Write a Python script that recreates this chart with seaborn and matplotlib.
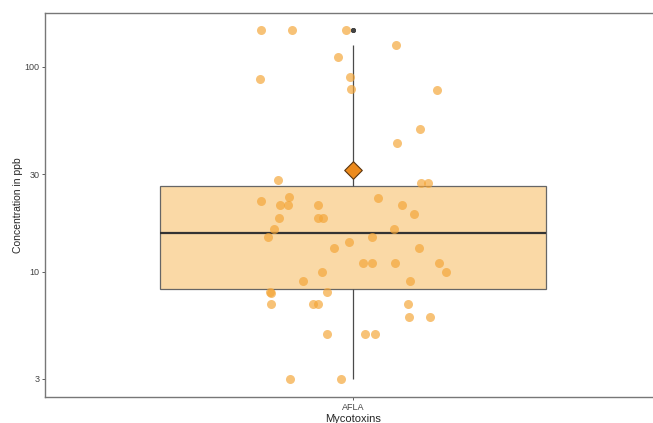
"""
Mycotoxin concentration boxplot (AFLA) with jittered samples.
"""

import numpy as np
import pandas as pd
import matplotlib.pyplot as plt
import seaborn as sns

# Data
mycotoxin = "AFLA"
concentration_ppb = [
    152, 152, 152, 128, 112, 89, 87, 78, 77, 50, 42.6,
    28.1, 27.2, 27.2, 23.2, 23, 22.2, 21.2, 21.2, 21.2, 21.2,
    19.2, 18.3, 18.3, 18.3, 16.2, 16.2, 14.8, 14.8, 14, 13.1, 13.1,
    11.1, 11.1, 11.1, 11.1, 10, 10, 9, 9, 8, 8, 7.9,
    7, 7, 7, 7, 6, 6, 5, 5, 5, 3, 3,
]
y_ticks = [3, 10, 30, 100]

df = pd.DataFrame({
    "Mycotoxins": [mycotoxin] * len(concentration_ppb),
    "Concentration in ppb": concentration_ppb,
})

sns.set_theme(style="white")
plt.rcParams['font.family'] = ['Liberation Sans', 'DejaVu Sans']

fig = plt.figure(figsize=(6.53, 4.23), dpi=100)
# panel runs a bit past the right edge, as in the reference crop
ax = fig.add_axes([0.069, 0.0615, 0.943, 0.9075])

sns.boxplot(
    data=df, x="Mycotoxins", y="Concentration in ppb", ax=ax,
    log_scale=True, width=0.627, color="#FAD9A6",
    linewidth=0.9, linecolor="#555555",
    boxprops=dict(facecolor="#FAD9A6", edgecolor="#666666"),
    medianprops=dict(color="#333333", linewidth=1.6),
    whiskerprops=dict(color="#4a4a4a", linewidth=0.9),
    capprops=dict(linewidth=0),
    flierprops=dict(marker="o", markersize=2.5, markerfacecolor="#444444",
                    markeredgecolor="#444444"),
)

np.random.seed(11)
sns.stripplot(
    data=df, x="Mycotoxins", y="Concentration in ppb", ax=ax,
    jitter=0.155, color="#F4A537", alpha=0.68, size=6.5, linewidth=0,
)

# arithmetic mean as a diamond
mean_val = np.mean(concentration_ppb)
ax.scatter([0], [mean_val], marker="D", s=80, color="#EC8A1C",
           edgecolor="#5a3510", linewidth=0.8, zorder=5)

ax.set_ylim(2.45, 183)
ax.set_xlim(-0.5, 0.5)
ax.set_yticks(y_ticks)
ax.set_yticklabels([str(t) for t in y_ticks])
ax.minorticks_off()

ax.tick_params(axis="both", which="major", labelsize=6.5, length=2.5,
               width=0.6, color="#444444", labelcolor="#444444", pad=1.5,
               left=True, bottom=True)
ax.set_xlabel("Mycotoxins", fontsize=8, labelpad=2)
ax.set_ylabel("Concentration in ppb", fontsize=7.5, labelpad=1)

for spine in ax.spines.values():
    spine.set_color("#777777")
    spine.set_linewidth(1.0)

fig.savefig("out.png", dpi=100)
